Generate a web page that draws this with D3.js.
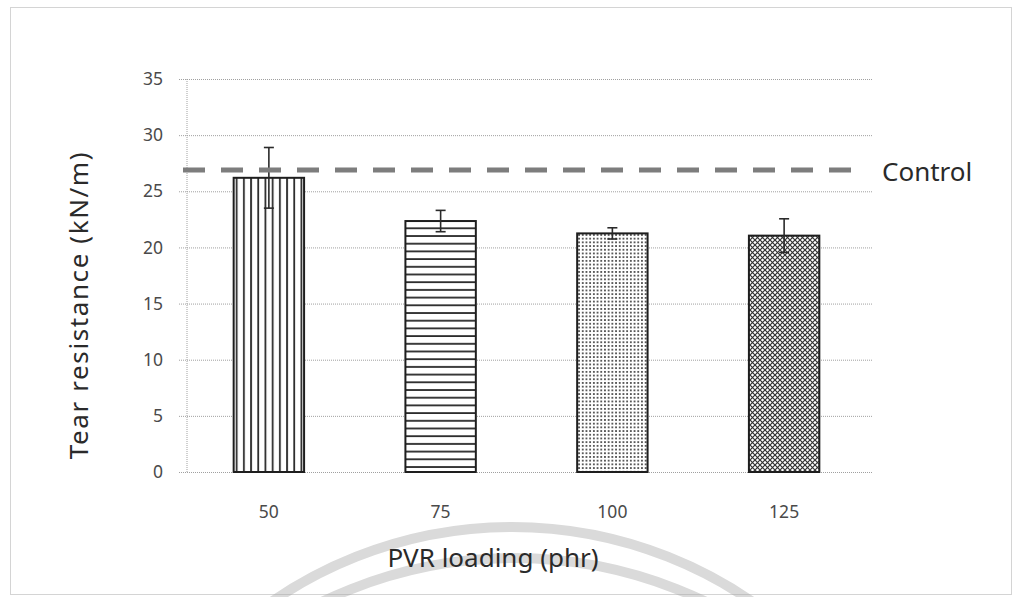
<!DOCTYPE html>
<html>
<head>
<meta charset="utf-8">
<script src="https://cdn.jsdelivr.net/npm/d3@7/dist/d3.min.js"></script>
<style>
  html, body { margin: 0; padding: 0; background: #fff; }
  svg { display: block; }
  text { font-family: "Noto Sans", "Open Sans", sans-serif; }
</style>
</head>
<body>
<svg id="chart" width="1016" height="597"></svg>
<script>
// Tear resistance of vulcanizates vs. PVR loading
const loadings = ["50", "75", "100", "125"];
const tearMean = [26.2, 22.35, 21.25, 21.05];
const tearErr = [2.7, 0.95, 0.5, 1.5];
const controlValue = 26.9;
const controlLabel = "Control";
const yTicks = [0, 5, 10, 15, 20, 25, 30, 35];
const xTitle = "PVR loading (phr)";
const yTitle = "Tear resistance (kN/m)";
const patterns = ["vlines", "hlines", "dots", "cross"];

const svg = d3.select("#chart");
const plot = { left: 183, right: 870, top: 79, bottom: 472 };

const x = d3.scaleBand().domain(loadings)
  .range([plot.left, plot.right]).paddingInner(0.59).paddingOuter(0.295);
const y = d3.scaleLinear().domain([0, 35]).range([plot.bottom, plot.top]);

// watermark rings behind everything
const wm = svg.append("g").attr("fill", "none").attr("stroke", "#dadada").attr("stroke-width", 10);
wm.append("circle").attr("cx", 512).attr("cy", 950).attr("r", 423);
wm.append("circle").attr("cx", 514).attr("cy", 1000).attr("r", 442);

// fill patterns
const defs = svg.append("defs");
const ink = "#2b2b2b";
let p = defs.append("pattern").attr("id", "vlines").attr("patternUnits", "userSpaceOnUse")
  .attr("width", 7.2).attr("height", 10).attr("x", x("50") + 2);
p.append("rect").attr("width", 7.2).attr("height", 10).attr("fill", "#fff");
p.append("line").attr("x1", 1).attr("x2", 1).attr("y1", 0).attr("y2", 10).attr("stroke", ink).attr("stroke-width", 1.8);

p = defs.append("pattern").attr("id", "hlines").attr("patternUnits", "userSpaceOnUse")
  .attr("width", 10).attr("height", 7.7).attr("y", 4);
p.append("rect").attr("width", 10).attr("height", 7.7).attr("fill", "#fff");
p.append("line").attr("x1", 0).attr("x2", 10).attr("y1", 1).attr("y2", 1).attr("stroke", ink).attr("stroke-width", 1.8);

p = defs.append("pattern").attr("id", "dots").attr("patternUnits", "userSpaceOnUse")
  .attr("width", 3.7).attr("height", 3.7);
p.append("rect").attr("width", 3.7).attr("height", 3.7).attr("fill", "#fff");
p.append("rect").attr("x", 1).attr("y", 1).attr("width", 1.7).attr("height", 1.7).attr("fill", "#3a3a3a");

p = defs.append("pattern").attr("id", "cross").attr("patternUnits", "userSpaceOnUse")
  .attr("width", 5).attr("height", 5);
p.append("rect").attr("width", 5).attr("height", 5).attr("fill", "#fff");
p.append("path").attr("d", "M0,0L5,5M5,0L0,5").attr("stroke", "#333").attr("stroke-width", 1.2);

// outer dotted frame
svg.append("rect").attr("x", 10.5).attr("y", 7.5).attr("width", 1001).attr("height", 587)
  .attr("fill", "none").attr("stroke", "#a8a8a8").attr("stroke-width", 1).attr("stroke-dasharray", "1,1");

// gridlines + y axis
const yAxis = d3.axisLeft(y).tickValues(yTicks).tickSize(-(plot.right - plot.left - 2)).tickPadding(24);
const gy = svg.append("g").attr("transform", `translate(${plot.left + 4},0)`).call(yAxis);
gy.select(".domain").remove();
gy.selectAll(".tick line").attr("stroke", "#a0a0a0").attr("stroke-dasharray", "1,1")
  .attr("x1", -8);
gy.selectAll(".tick text").attr("font-size", 17.5).attr("fill", "#4a4a4a");

// vertical axis line
svg.append("line").attr("x1", plot.left + 4).attr("x2", plot.left + 4)
  .attr("y1", y(35)).attr("y2", y(0)).attr("stroke", "#a0a0a0").attr("stroke-dasharray", "1,1");

// x axis labels
const xAxis = d3.axisBottom(x).tickSize(0).tickPadding(34);
const gx = svg.append("g").attr("transform", `translate(0,${plot.bottom})`).call(xAxis);
gx.select(".domain").remove();
gx.selectAll(".tick text").attr("font-size", 17.5).attr("fill", "#4a4a4a");

// bars
svg.append("g").selectAll("rect").data(loadings).join("rect")
  .attr("x", d => x(d))
  .attr("y", (d, i) => y(tearMean[i]))
  .attr("width", x.bandwidth())
  .attr("height", (d, i) => y(0) - y(tearMean[i]))
  .attr("fill", (d, i) => `url(#${patterns[i]})`)
  .attr("stroke", "#1e1e1e").attr("stroke-width", 2);

// error bars
const eb = svg.append("g").attr("stroke", "#2a2a2a").attr("stroke-width", 1.6);
loadings.forEach((d, i) => {
  const cx = x(d) + x.bandwidth() / 2;
  const hi = y(tearMean[i] + tearErr[i]), lo = y(tearMean[i] - tearErr[i]);
  eb.append("line").attr("x1", cx).attr("x2", cx).attr("y1", hi).attr("y2", lo);
  eb.append("line").attr("x1", cx - 5).attr("x2", cx + 5).attr("y1", hi).attr("y2", hi);
  eb.append("line").attr("x1", cx - 5).attr("x2", cx + 5).attr("y1", lo).attr("y2", lo);
});

// control reference line
svg.append("line").attr("x1", plot.left).attr("x2", 856)
  .attr("y1", y(controlValue)).attr("y2", y(controlValue))
  .attr("stroke", "#7d7d7d").attr("stroke-width", 5).attr("stroke-dasharray", "22,16");
svg.append("text").attr("x", 882).attr("y", y(controlValue) + 11)
  .attr("font-size", 26).attr("fill", "#2a2a2a").text(controlLabel);

// axis titles
svg.append("text").attr("x", 493).attr("y", 567).attr("text-anchor", "middle")
  .attr("font-size", 26).attr("fill", "#2a2a2a").text(xTitle);
svg.append("text").attr("transform", `translate(88,305) rotate(-90)`).attr("text-anchor", "middle")
  .attr("font-size", 26).attr("letter-spacing", 1.6).attr("fill", "#2a2a2a").text(yTitle);
</script>
</body>
</html>
